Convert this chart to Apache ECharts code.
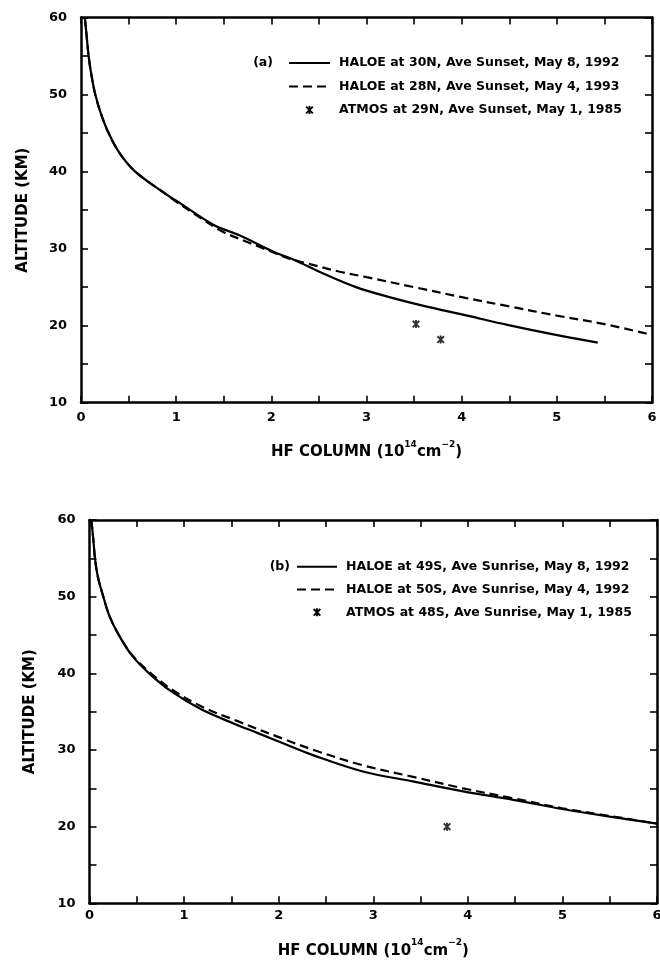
<!DOCTYPE html>
<html><head><meta charset="utf-8">
<script src="https://cdn.jsdelivr.net/npm/echarts@6/dist/echarts.min.js"></script>
<style>html,body{margin:0;padding:0;background:#fff}#c{width:660px;height:961px}</style>
</head><body><div id="c"></div>
<script>
// ---- data (HF column in 1e14 cm^-2, altitude in km) ----
const xTicks = [0, 1, 2, 3, 4, 5, 6];
const yTicks = [10, 20, 30, 40, 50, 60];

const topSolid = [[0.04,60],[0.06,57.5],[0.08,55],[0.11,52.5],[0.15,50],[0.21,47.5],[0.29,45],[0.40,42.5],[0.57,40],[0.9,37],[1.04,35.9],[1.39,33.1],[1.67,31.7],[2.02,29.6],[2.23,28.6],[2.54,26.8],[2.89,25.0],[3.24,23.7],[3.59,22.6],[4.06,21.3],[4.48,20.1],[4.95,18.9],[5.43,17.8]];
const topDashed = [[0.04,60],[0.06,57.5],[0.08,55],[0.11,52.5],[0.15,50],[0.21,47.5],[0.29,45],[0.40,42.5],[0.57,40],[0.9,37],[1.0,36.1],[1.21,34.35],[1.49,32.2],[1.74,30.9],[1.88,30.2],[2.19,28.7],[2.37,28.1],[2.72,27.0],[3.0,26.3],[3.5,25.0],[4.0,23.7],[4.5,22.5],[5.0,21.3],[5.5,20.2],[6.0,18.8]];
const topAtmos = [[3.52,20.2],[3.78,18.2]];

const botSolid = [[0.02,60],[0.04,57.5],[0.058,55],[0.09,52.5],[0.146,50],[0.21,47.5],[0.31,45],[0.45,42.3],[0.63,40],[0.87,37.6],[1.18,35.3],[1.536,33.4],[1.78,32.2],[2.06,30.8],[2.37,29.3],[2.89,27.2],[3.42,25.9],[3.95,24.6],[4.48,23.5],[5.0,22.3],[5.5,21.3],[6.0,20.4]];
const botDashed = [[0.02,60],[0.04,57.5],[0.058,55],[0.09,52.5],[0.146,50],[0.21,47.5],[0.31,45],[0.45,42.4],[0.63,40.2],[0.87,37.9],[1.18,35.7],[1.536,33.9],[2.06,31.4],[2.37,30.0],[2.89,28.0],[3.42,26.5],[3.95,25.0],[4.48,23.7],[5.0,22.4],[5.5,21.4],[6.0,20.4]];
const botAtmos = [[3.78,20.0]];

const topLegend = ['HALOE at 30N, Ave Sunset, May 8, 1992','HALOE at 28N, Ave Sunset, May 4, 1993','ATMOS at 29N, Ave Sunset, May 1, 1985'];
const botLegend = ['HALOE at 49S, Ave Sunrise, May 8, 1992','HALOE at 50S, Ave Sunrise, May 4, 1992','ATMOS at 48S, Ave Sunrise, May 1, 1985'];
const panelTags = ['(a)', '(b)'];
const xName = '{a|HF COLUMN (10}{s|14}{a|cm}{s|\u22122}{a|)}';
const yName = 'ALTITUDE (KM)';

// ---- styling ----
const FF = '"DejaVu Sans", sans-serif';
const INK = '#000';
const star = 'path://M3.8,0L6.2,0L6.2,10L3.8,10Z M0,1.7L1.7,0L10,8.3L8.3,10Z M8.3,0L10,1.7L1.7,10L0,8.3Z';
const starPolys = [
  [[3.8,0],[6.2,0],[6.2,10],[3.8,10]],
  [[0,1.7],[1.7,0],[10,8.3],[8.3,10]],
  [[8.3,0],[10,1.7],[1.7,10],[0,8.3]]
];
const dash = [9, 5];

const grids = [
  {left: 81, top: 17.5, width: 571, height: 385.2},
  {left: 89.5, top: 520, width: 567.5, height: 383.3}
];
const nameGaps = [37, 35];

function xAxis(gi, pos, main) {
  return {
    type: 'value', gridIndex: gi, position: pos, min: xTicks[0], max: xTicks[xTicks.length-1], interval: 1,
    name: main ? xName : '', nameLocation: 'middle', nameGap: nameGaps[gi],
    nameTextStyle: {rich: {
      a: {fontFamily: FF, fontWeight: 'bold', fontSize: 15, color: INK, lineHeight: 20, verticalAlign: 'bottom'},
      s: {fontFamily: FF, fontWeight: 'bold', fontSize: 9, color: INK, lineHeight: 10, verticalAlign: 'top'}
    }},
    axisLine: {show: true, onZero: false, lineStyle: {color: INK, width: 2.5}},
    axisTick: {show: true, inside: true, length: 7, lineStyle: {color: INK, width: 1.6}},
    minorTick: {show: true, splitNumber: 2, length: 7, lineStyle: {color: INK, width: 1.6}},
    axisLabel: {show: main, margin: gi === 0 ? 8 : 6, fontFamily: FF, fontWeight: 'bold', fontSize: 13, color: INK,
      showMinLabel: true, showMaxLabel: true, hideOverlap: false},
    splitLine: {show: false}, minorSplitLine: {show: false}
  };
}
function yAxis(gi, pos, main) {
  return {
    type: 'value', gridIndex: gi, position: pos, min: yTicks[0], max: yTicks[yTicks.length-1], interval: 10,
    name: main ? yName : '', nameLocation: 'middle', nameGap: gi === 0 ? 50 : 52,
    nameTextStyle: {fontFamily: FF, fontWeight: 'bold', fontSize: 15, color: INK},
    axisLine: {show: true, onZero: false, lineStyle: {color: INK, width: 2.5}},
    axisTick: {show: true, inside: true, length: 7, lineStyle: {color: INK, width: 1.6}},
    minorTick: {show: true, splitNumber: 2, length: 7, lineStyle: {color: INK, width: 1.6}},
    axisLabel: {show: main, margin: 14, fontFamily: FF, fontWeight: 'bold', fontSize: 13, color: INK,
      showMinLabel: true, showMaxLabel: true, hideOverlap: false},
    splitLine: {show: false}, minorSplitLine: {show: false}
  };
}

function lineSeries(name, data, gi, dashed) {
  return {
    name, type: 'line', xAxisIndex: gi * 2, yAxisIndex: gi * 2, data,
    showSymbol: false, symbol: 'none', smooth: 0.35, silent: true,
    lineStyle: {color: INK, width: 2.2, type: dashed ? dash : 'solid'}, z: dashed ? 3 : 2
  };
}
function scatterSeries(name, data, gi) {
  return {
    name, type: 'scatter', xAxisIndex: gi * 2, yAxisIndex: gi * 2, data,
    symbol: star, symbolSize: 8, itemStyle: {color: INK}, silent: true, z: 4
  };
}

// legend drawn as graphics
function legendGraphics(gi, labels, rows, tagRight, lineX1, lineX2, textX) {
  const font = 'bold 12.5px ' + FF;
  const els = [];
  els.push({type: 'text', x: tagRight, y: rows[0], style: {text: panelTags[gi], font, fill: INK, align: 'right', verticalAlign: 'middle'}});
  els.push({type: 'line', shape: {x1: lineX1, y1: rows[0], x2: lineX2, y2: rows[0]}, style: {stroke: INK, lineWidth: 2}});
  els.push({type: 'line', shape: {x1: lineX1, y1: rows[1], x2: lineX2, y2: rows[1]}, style: {stroke: INK, lineWidth: 2, lineDash: dash}});
  const mx = (lineX1 + lineX2) / 2, s = 0.8;
  starPolys.forEach(p => els.push({type: 'polygon',
    shape: {points: p.map(q => [mx - 4 + q[0] * s, rows[2] - 4 + q[1] * s])}, style: {fill: INK}}));
  labels.forEach((t, i) => els.push({type: 'text', x: textX, y: rows[i], style: {text: t, font, fill: INK, align: 'left', verticalAlign: 'middle'}}));
  return els;
}

const chart = echarts.init(document.getElementById('c'), null, {renderer: 'canvas'});
chart.setOption({
  backgroundColor: '#fff',
  animation: false,
  grid: grids.map(g => Object.assign({containLabel: false, outerBoundsMode: 'none'}, g)),
  xAxis: [xAxis(0, 'bottom', true), xAxis(0, 'top', false), xAxis(1, 'bottom', true), xAxis(1, 'top', false)],
  yAxis: [yAxis(0, 'left', true), yAxis(0, 'right', false), yAxis(1, 'left', true), yAxis(1, 'right', false)],
  series: [
    lineSeries(topLegend[0], topSolid, 0, false),
    lineSeries(topLegend[1], topDashed, 0, true),
    scatterSeries(topLegend[2], topAtmos, 0),
    lineSeries(botLegend[0], botSolid, 1, false),
    lineSeries(botLegend[1], botDashed, 1, true),
    scatterSeries(botLegend[2], botAtmos, 1)
  ],
  graphic: [].concat(
    legendGraphics(0, topLegend, [63, 86.5, 110], 273, 289, 330, 339),
    legendGraphics(1, botLegend, [566.7, 589.5, 612.3], 290, 297, 337, 346)
  )
});
</script></body></html>
